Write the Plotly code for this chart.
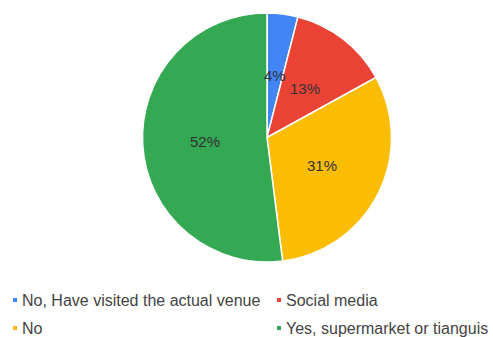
import numpy as np
import plotly.graph_objects as go

labels = ["No, Have visited the actual venue", "Social media", "No", "Yes, supermarket or tianguis"]
values = [4, 13, 31, 52]
colors = ["#4285F4", "#EA4335", "#FBBC04", "#34A853"]

W, H = 493, 337
M_L, M_R, M_T, M_B = 41, 0, 13, 75
plot_w = W - M_L - M_R
plot_h = H - M_T - M_B
cx_px = M_L + plot_w / 2
cy_px = M_T + plot_h / 2
radius_px = min(plot_w, plot_h) / 2


def to_paper(x_px, y_px):
    return (x_px - M_L) / plot_w, (H - M_B - y_px) / plot_h


fig = go.Figure(
    go.Pie(
        labels=labels,
        values=values,
        sort=False,
        direction="clockwise",
        rotation=0,
        marker=dict(colors=colors, line=dict(color="white", width=1.5)),
        textinfo="none",
        hoverinfo="label+percent",
        showlegend=False,
    )
)

# percentage labels at half radius along each slice's mid-angle
total = float(sum(values))
shares = np.array(values) / total
mids = np.cumsum(shares) - shares / 2
annotations = []
for share, mid in zip(shares, mids):
    ang = 2 * np.pi * mid
    px = cx_px + 0.5 * radius_px * np.sin(ang)
    py = cy_px - 0.5 * radius_px * np.cos(ang)
    xp, yp = to_paper(px, py)
    annotations.append(dict(
        x=xp, y=yp, xref="paper", yref="paper", showarrow=False,
        text=f"{round(share * 100)}%",
        font=dict(family="Liberation Sans, Arial", size=15, color="#333333"),
        xanchor="center", yanchor="middle",
    ))

# two-column legend below the pie
shapes = []
col_x = [13, 277]
row_y = [300, 328]
for i, (lab, col) in enumerate(zip(labels, colors)):
    mx = col_x[i % 2]
    my = row_y[i // 2]
    x0, y0 = to_paper(mx, my - 2)
    x1, y1 = to_paper(mx + 4, my + 2)
    shapes.append(dict(type="rect", xref="paper", yref="paper",
                       x0=x0, x1=x1, y0=y0, y1=y1,
                       fillcolor=col, line=dict(width=0)))
    tx, ty = to_paper(mx + 7, my)
    annotations.append(dict(
        x=tx, y=ty, xref="paper", yref="paper", showarrow=False,
        text=lab, xanchor="left", yanchor="middle",
        font=dict(family="Liberation Sans, Arial", size=16, color="#444444"),
    ))

fig.update_layout(
    width=W, height=H,
    margin=dict(l=M_L, r=M_R, t=M_T, b=M_B),
    paper_bgcolor="white",
    plot_bgcolor="white",
    annotations=annotations,
    shapes=shapes,
)

fig.write_html("out.html")
